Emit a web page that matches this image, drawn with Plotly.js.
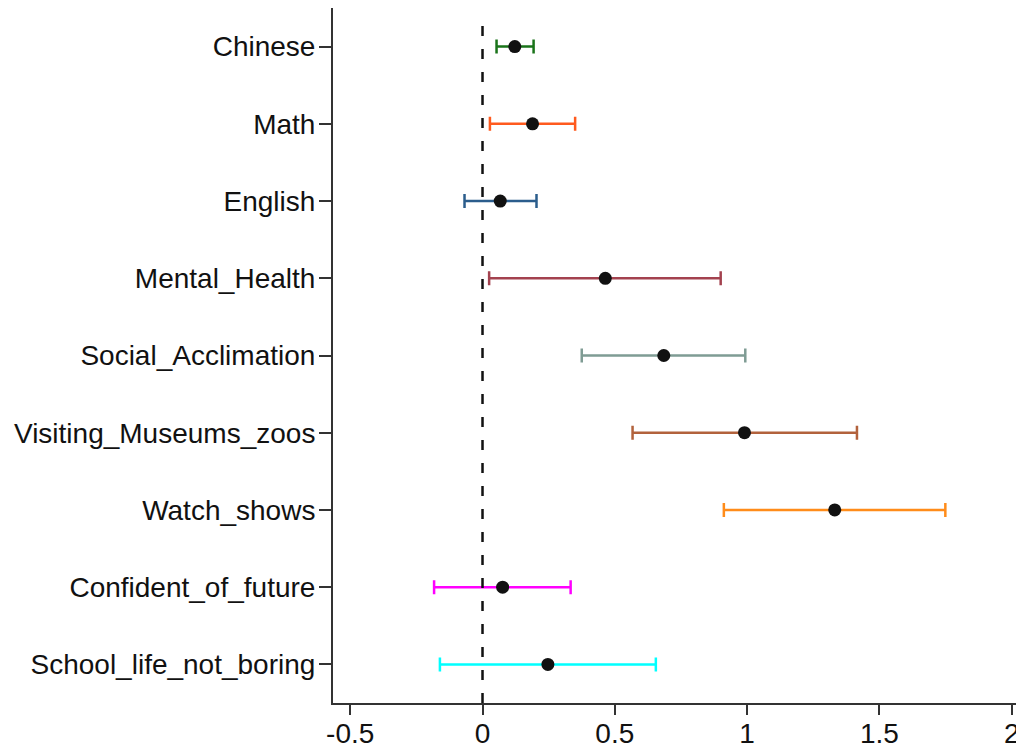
<!DOCTYPE html>
<html>
<head>
<meta charset="utf-8">
<script src="https://cdn.plot.ly/plotly-3.0.1.min.js"></script>
<style>html,body{margin:0;padding:0;background:#fff;}#chart{width:1016px;height:750px;}</style>
</head>
<body>
<div id="chart"></div>
<script>
const categories = ["Chinese","Math","English","Mental_Health","Social_Acclimation","Visiting_Museums_zoos","Watch_shows","Confident_of_future","School_life_not_boring"];
const estimates = [0.122, 0.189, 0.067, 0.464, 0.685, 0.990, 1.331, 0.076, 0.247];
const ciLow  = [0.053, 0.028, -0.068, 0.025, 0.375, 0.567, 0.912, -0.183, -0.161];
const ciHigh = [0.193, 0.350, 0.204, 0.900, 0.993, 1.415, 1.749, 0.333, 0.655];
const colors = ["#1a741a","#ff5a1e","#2b5d8c","#a3424f","#7f9c94","#b2623c","#ff8c1a","#ff00ff","#00ffff"];
const xTicks = [-0.5, 0, 0.5, 1, 1.5, 2];
const xTickLabels = ["-0.5","0","0.5","1","1.5","2"];

const traces = categories.map((c, i) => ({
  type: 'scatter',
  mode: 'markers',
  x: [estimates[i]],
  y: [c],
  marker: {color: '#111111', size: 13},
  error_x: {
    type: 'data',
    symmetric: false,
    array: [ciHigh[i] - estimates[i]],
    arrayminus: [estimates[i] - ciLow[i]],
    color: colors[i],
    thickness: 2.5,
    width: 7
  },
  showlegend: false,
  hoverinfo: 'x+y'
}));

const font = {family: 'Arial, "Liberation Sans", sans-serif', size: 28, color: '#111111'};

const layout = {
  width: 1016,
  height: 750,
  margin: {l: 333, r: 0, t: 8, b: 47},
  paper_bgcolor: '#ffffff',
  plot_bgcolor: '#ffffff',
  font: font,
  showlegend: false,
  xaxis: {
    range: [-0.565, 2.016],
    tickvals: xTicks,
    ticktext: xTickLabels,
    showgrid: false,
    zeroline: false,
    showline: true,
    linecolor: '#333333',
    linewidth: 2,
    ticks: 'outside',
    ticklen: 10,
    tickwidth: 2,
    tickcolor: '#333333',
    tickfont: font,
    ticklabelstandoff: -6,
    ticklabeloverflow: 'allow'
  },
  yaxis: {
    type: 'category',
    categoryorder: 'array',
    categoryarray: categories.slice().reverse(),
    range: [-0.5, 8.5],
    showgrid: false,
    zeroline: false,
    showline: true,
    linecolor: '#333333',
    linewidth: 2,
    ticks: 'outside',
    ticklen: 12,
    tickwidth: 2,
    tickcolor: '#333333',
    tickfont: font,
    ticklabelstandoff: -2
  },
  shapes: [{
    type: 'line', xref: 'x', yref: 'paper',
    x0: 0, x1: 0, y0: 0, y1: 0.99,
    line: {color: '#111111', width: 2.5, dash: '10px,13px'}
  }]
};

Plotly.newPlot('chart', traces, layout, {displayModeBar: false, staticPlot: true});
</script>
</body>
</html>
